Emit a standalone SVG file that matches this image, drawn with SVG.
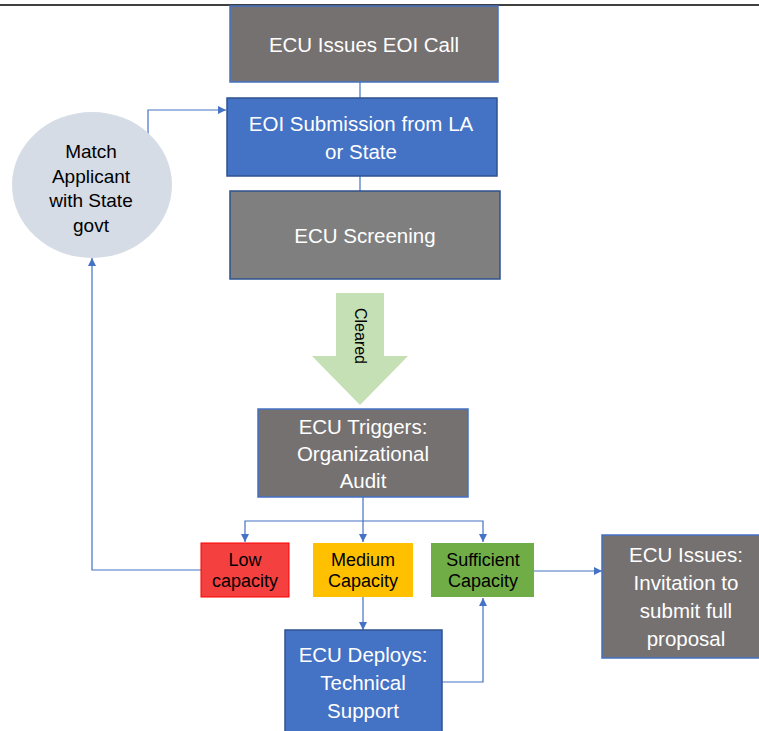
<svg xmlns="http://www.w3.org/2000/svg" width="759" height="731" viewBox="0 0 759 731">
<defs>
<style>
.t{font-family:"Liberation Sans",Arial,sans-serif;font-size:18px;text-anchor:middle}
.w{fill:#ffffff;font-size:20.5px}
.k{fill:#000000}
.c{fill:none;stroke:#4472C4;stroke-width:1.2}
.gray{fill:#767171;stroke:#4472C4;stroke-width:1.5}
.gray2{fill:#7F7F7F;stroke:#2F528F;stroke-width:1.5}
.blue{fill:#4472C4;stroke:#2F528F;stroke-width:1.5}
</style>
<marker id="ah" viewBox="0 0 10 10" refX="10" refY="5" markerWidth="8" markerHeight="8" markerUnits="userSpaceOnUse" orient="auto">
<path d="M0,0 L10,5 L0,10 z" fill="#4472C4"/>
</marker>
</defs>
<rect width="759" height="731" fill="#ffffff"/>
<line x1="0" y1="5" x2="759" y2="5" stroke="#000" stroke-width="1.5"/>
<g id="connectors">
<line class="c" x1="360" y1="82" x2="360" y2="98"/>
<line class="c" x1="360" y1="176" x2="360" y2="191"/>
<polyline class="c" points="148,138 148,110 226,110" marker-end="url(#ah)"/>
<line class="c" x1="363" y1="497" x2="363" y2="542" marker-end="url(#ah)"/>
<polyline class="c" points="363,521 245,521 245,542" marker-end="url(#ah)"/>
<polyline class="c" points="363,521 483,521 483,542" marker-end="url(#ah)"/>
<polyline class="c" points="201,570 92,570 92,258" marker-end="url(#ah)"/>
<line class="c" x1="363" y1="597" x2="363" y2="630" marker-end="url(#ah)"/>
<polyline class="c" points="442,682 483,682 483,598" marker-end="url(#ah)"/>
<line class="c" x1="534" y1="571" x2="602" y2="571" marker-end="url(#ah)"/>
</g>
<g id="n1">
<rect class="gray" x="230" y="6" width="268" height="76"/>
<text class="t w" x="364" y="52">ECU Issues EOI Call</text>
</g>
<g id="n2">
<rect class="blue" x="227" y="98" width="270" height="78"/>
<text class="t w" x="361" y="131">EOI Submission from LA</text>
<text class="t w" x="361" y="159">or State</text>
</g>
<g id="n3">
<rect class="gray2" x="230" y="191" width="270" height="88"/>
<text class="t w" x="365" y="243">ECU  Screening</text>
</g>
<g id="cleared">
<polygon points="336,293 384,293 384,356 408,356 360,405 312,356 336,356" fill="#C5E0B4"/>
<text class="t k" style="font-size:16px" transform="translate(360,336) rotate(90)" y="5">Cleared</text>
</g>
<g id="n4">
<rect class="gray" x="258" y="409" width="210" height="88"/>
<text class="t w" x="363" y="434">ECU Triggers:</text>
<text class="t w" x="363" y="461">Organizational</text>
<text class="t w" x="363" y="488">Audit</text>
</g>
<g id="match">
<ellipse cx="92" cy="185" rx="80" ry="73" fill="#D6DCE5"/>
<text class="t k" style="font-size:19px" x="91" y="158">Match</text>
<text class="t k" style="font-size:19px" x="91" y="183">Applicant</text>
<text class="t k" style="font-size:19px" x="91" y="207">with State</text>
<text class="t k" style="font-size:19px" x="91" y="232">govt</text>
</g>
<g id="low">
<rect x="201" y="543" width="88" height="54" fill="#F54040" stroke="#FF0000" stroke-width="1"/>
<text class="t k" x="245" y="566">Low</text>
<text class="t k" x="245" y="587">capacity</text>
</g>
<g id="medium">
<rect x="313" y="543" width="100" height="54" fill="#FFC000"/>
<text class="t k" x="363" y="566">Medium</text>
<text class="t k" x="363" y="587">Capacity</text>
</g>
<g id="sufficient">
<rect x="431" y="543" width="103" height="54" fill="#70AD47"/>
<text class="t k" x="483" y="566">Sufficient</text>
<text class="t k" x="483" y="587">Capacity</text>
</g>
<g id="deploys">
<rect class="blue" x="285" y="630" width="157" height="110"/>
<text class="t w" x="363" y="662">ECU Deploys:</text>
<text class="t w" x="363" y="690">Technical</text>
<text class="t w" x="363" y="718">Support</text>
</g>
<g id="invite">
<rect class="gray" x="602" y="535" width="170" height="123"/>
<text class="t w" x="686" y="562">ECU Issues:</text>
<text class="t w" x="686" y="590">Invitation to</text>
<text class="t w" x="686" y="618">submit full</text>
<text class="t w" x="686" y="646">proposal</text>
</g>
</svg>
